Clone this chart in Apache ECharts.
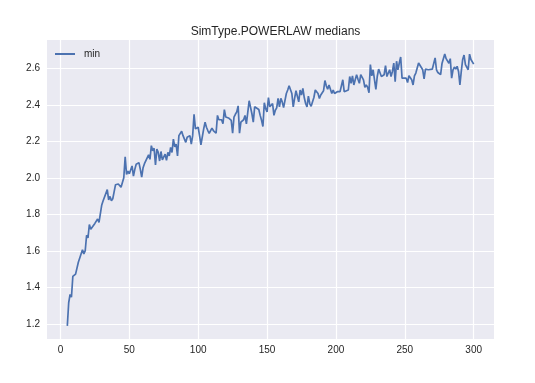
<!DOCTYPE html>
<html>
<head>
<meta charset="utf-8">
<script src="https://cdn.jsdelivr.net/npm/echarts@6/dist/echarts.min.js"></script>
<style>
html,body{margin:0;padding:0;background:#fff;}
#chart{width:535px;height:383px;}
</style>
</head>
<body>
<div id="chart"></div>
<script>
const titleText = "SimType.POWERLAW medians";
const seriesName = "min";
const xs = [5,6,7,8,9,10,11,13,14,16,17,18,19,20,21,22,23,25,27,28,30,31,32,34,35,36,37,38,40,42,44,45,46,47,48,49,50,52,53,54,55,57,58,59,60,61,62,64,65,66,67,68,69,70,71,72,73,74,75,76,77,78,79,80,81,82,83,84,85,86,87,88,89,90,91,92,93,94,95,96,97,98,99,100,101,102,104,105,106,107,108,110,111,113,114,115,117,118,119,120,121,122,124,125,126,127,128,129,130,131,133,134,135,136,137,138,139,140,141,142,144,145,146,147,148,149,150,151,152,154,155,156,157,158,159,160,161,162,164,165,166,167,168,169,170,171,173,174,175,176,177,178,179,180,181,182,183,184,185,186,187,188,189,190,191,192,193,194,195,196,197,198,199,201,202,203,205,206,207,209,210,211,212,213,214,215,216,217,218,220,221,222,223,224,225,226,227,228,229,230,231,233,234,235,236,237,238,239,240,241,242,243,244,245,246,247,248,249,251,252,253,254,255,256,257,258,259,260,261,263,264,265,266,267,268,270,271,272,273,274,275,276,277,279,280,281,282,283,284,285,286,287,288,289,290,291,292,293,294,295,296,297,298,300];
const ys = [1.19,1.317,1.363,1.348,1.461,1.456,1.474,1.539,1.539,1.607,1.585,1.603,1.687,1.672,1.746,1.72,1.728,1.752,1.776,1.757,1.853,1.876,1.867,1.937,1.881,1.9,1.876,1.887,1.964,1.968,1.95,1.946,2.002,2.117,2.02,2.039,2.024,2.067,2.011,2.048,2.076,2.085,2.048,2.006,2.057,2.079,2.07,2.128,2.103,2.178,2.15,2.164,2.072,2.159,2.141,2.094,2.146,2.1,2.094,2.131,2.098,2.141,2.122,2.168,2.141,2.214,2.172,2.187,2.122,2.233,2.224,2.257,2.233,2.228,2.196,2.224,2.224,2.233,2.187,2.233,2.35,2.27,2.279,2.279,2.233,2.183,2.27,2.307,2.279,2.261,2.246,2.274,2.261,2.246,2.344,2.32,2.32,2.298,2.376,2.335,2.326,2.33,2.317,2.246,2.335,2.35,2.363,2.396,2.246,2.307,2.32,2.344,2.298,2.294,2.424,2.431,2.353,2.307,2.391,2.391,2.376,2.344,2.317,2.283,2.413,2.381,2.363,2.442,2.391,2.409,2.344,2.372,2.385,2.437,2.391,2.437,2.418,2.387,2.464,2.483,2.506,2.511,2.464,2.391,2.437,2.479,2.418,2.483,2.456,2.492,2.442,2.409,2.391,2.45,2.409,2.394,2.387,2.442,2.483,2.492,2.464,2.437,2.456,2.446,2.479,2.535,2.506,2.487,2.511,2.502,2.464,2.483,2.464,2.474,2.464,2.474,2.539,2.474,2.474,2.483,2.557,2.52,2.561,2.511,2.539,2.567,2.542,2.52,2.567,2.539,2.498,2.511,2.498,2.468,2.622,2.561,2.594,2.539,2.487,2.557,2.598,2.557,2.548,2.567,2.617,2.557,2.576,2.594,2.557,2.585,2.631,2.529,2.641,2.594,2.631,2.664,2.548,2.557,2.548,2.524,2.561,2.553,2.539,2.511,2.561,2.576,2.585,2.631,2.635,2.594,2.544,2.598,2.598,2.594,2.598,2.598,2.594,2.659,2.594,2.579,2.576,2.567,2.628,2.68,2.655,2.645,2.63,2.655,2.548,2.594,2.609,2.598,2.613,2.585,2.511,2.585,2.65,2.675,2.622,2.613,2.594,2.68,2.65,2.625];

const data = xs.map((x, i) => [x, ys[i]]);
const chart = echarts.init(document.getElementById('chart'), null, {renderer: 'canvas'});
const txt = '#262626';
chart.setOption({
  animation: false,
  backgroundColor: '#ffffff',
  title: {
    text: titleText,
    left: 270.5, top: 21, textAlign: 'center',
    textStyle: {fontFamily: 'Liberation Sans', fontSize: 12, fontWeight: 'normal', color: txt}
  },
  legend: {
    left: 50, top: 44,
    icon: 'rect', itemWidth: 20, itemHeight: 2, itemGap: 8,
    textStyle: {fontFamily: 'Liberation Sans', fontSize: 10, color: txt, padding: [0, 0, 0, 4]},
    data: [seriesName]
  },
  grid: {left: 47, right: 41, top: 40, bottom: 44, show: true, backgroundColor: '#EAEAF2', borderWidth: 0, containLabel: false},
  xAxis: {
    type: 'value', min: -9.75, max: 314.75, minInterval: 50, maxInterval: 50,
    axisLine: {show: false}, axisTick: {show: false},
    axisLabel: {showMinLabel: false, showMaxLabel: false, margin: 6, fontFamily: 'Liberation Sans', fontSize: 10, color: txt},
    splitLine: {show: true, showMinLine: false, showMaxLine: false, lineStyle: {color: '#ffffff', width: 1.2}}
  },
  yAxis: {
    type: 'value', min: 1.1183, max: 2.7572, minInterval: 0.2, maxInterval: 0.2,
    axisLine: {show: false}, axisTick: {show: false},
    axisLabel: {showMinLabel: false, showMaxLabel: false, margin: 7, fontFamily: 'Liberation Sans', fontSize: 10, color: txt,
      formatter: v => v.toFixed(1)},
    splitLine: {show: true, showMinLine: false, showMaxLine: false, lineStyle: {color: '#ffffff', width: 1.2}}
  },
  series: [{
    name: seriesName, type: 'line', data: data,
    symbol: 'none', showSymbol: false,
    lineStyle: {color: '#4C72B0', width: 1.7},
    itemStyle: {color: '#4C72B0'}
  }]
});
</script>
</body>
</html>
